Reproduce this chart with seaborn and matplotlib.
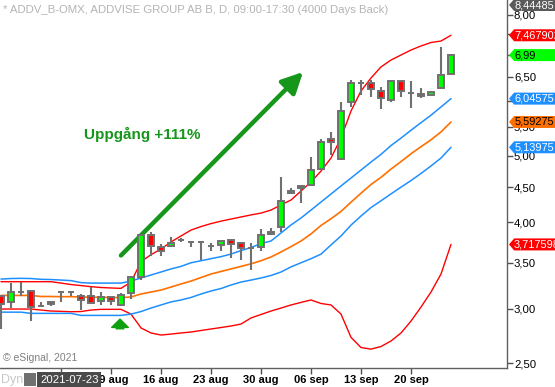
import numpy as np
import pandas as pd
import matplotlib
matplotlib.use("Agg")
import matplotlib.pyplot as plt
import seaborn as sns
from matplotlib.patches import Polygon, Rectangle
from matplotlib.ticker import FixedLocator, FuncFormatter, NullLocator

# trading days shown in the chart
days = pd.bdate_range("2021-07-23", "2021-09-24")

opens = [3.13, 3.07, 3.17, 3.18, 3.03, 3.07, 3.175, 3.175, 3.13, 3.13,
         3.08, 3.12, 3.035, 3.16, 3.34, 3.84, 3.68, 3.70, 3.77, 3.75,
         3.75, 3.70, 3.71, 3.77, 3.74, 3.67, 3.68, 3.845, 3.94, 4.41,
         4.48, 4.53, 4.775, 5.28, 4.94, 5.98, 6.375, 6.375, 6.205, 6.015,
         6.41, 6.155, 6.135, 6.12, 6.255, 6.565]
highs = [3.14, 3.27, 3.28, 3.18, 3.07, 3.08, 3.18, 3.18, 3.15, 3.23,
         3.17, 3.12, 3.165, 3.35, 3.84, 3.88, 3.72, 3.81, 3.80, 3.755,
         3.755, 3.735, 3.755, 3.79, 3.745, 3.74, 3.92, 3.93, 4.66, 4.49,
         4.52, 4.98, 5.28, 5.41, 5.98, 6.43, 6.43, 6.43, 6.29, 6.41,
         6.42, 6.41, 6.255, 6.20, 7.19, 7.02]
lows = [2.80, 3.01, 3.13, 2.88, 3.02, 3.03, 3.07, 3.13, 2.99, 3.06,
        3.035, 3.035, 3.03, 3.10, 3.30, 3.58, 3.58, 3.69, 3.75, 3.69,
        3.535, 3.64, 3.64, 3.55, 3.53, 3.41, 3.64, 3.84, 3.88, 4.405,
        4.27, 4.525, 4.765, 5.01, 4.93, 5.885, 6.12, 6.085, 5.835, 5.985,
        6.085, 5.865, 6.05, 6.10, 6.235, 6.55]
closes = [3.05, 3.17, 3.17, 3.02, 3.03, 3.05, 3.175, 3.175, 3.09, 3.06,
          3.12, 3.08, 3.14, 3.33, 3.83, 3.70, 3.64, 3.74, 3.77, 3.75,
          3.75, 3.70, 3.755, 3.72, 3.67, 3.67, 3.83, 3.87, 4.30, 4.45,
          4.51, 4.76, 5.23, 5.23, 5.80, 6.36, 6.375, 6.235, 6.05, 6.41,
          6.20, 6.155, 6.10, 6.175, 6.54, 6.99]

sma20 = [3.136, 3.136, 3.136, 3.136, 3.125, 3.125, 3.123, 3.123, 3.120, 3.117,
         3.117, 3.115, 3.113, 3.120, 3.151, 3.172, 3.193, 3.225, 3.258, 3.290,
         3.329, 3.368, 3.397, 3.426, 3.455, 3.485, 3.521, 3.565, 3.625, 3.690,
         3.760, 3.85, 3.96, 4.05, 4.15, 4.28, 4.41, 4.54, 4.65, 4.78,
         4.90, 5.03, 5.15, 5.27, 5.41, 5.59275]
bb_upper = [3.283, 3.283, 3.283, 3.283, 3.283, 3.283, 3.268, 3.252, 3.241, 3.229,
            3.220, 3.215, 3.211, 3.279, 3.509, 3.593, 3.661, 3.748, 3.824, 3.900,
            3.946, 3.985, 4.018, 4.046, 4.074, 4.102, 4.127, 4.169, 4.242, 4.311,
            4.442, 4.578, 4.748, 4.959, 5.301, 5.801, 6.201, 6.476, 6.720, 6.876,
            6.992, 7.109, 7.206, 7.290, 7.326, 7.467902]
bb_lower = [2.997, 2.997, 2.997, 2.997, 2.987, 2.977, 2.974, 2.970, 2.972, 2.987,
            2.994, 2.994, 2.994, 2.947, 2.814, 2.767, 2.748, 2.757, 2.767, 2.776,
            2.790, 2.804, 2.818, 2.832, 2.851, 2.909, 2.943, 2.977, 3.007, 3.038,
            3.064, 3.089, 3.053, 3.038, 2.947, 2.727, 2.636, 2.622, 2.645, 2.694,
            2.767, 2.879, 3.017, 3.172, 3.368, 3.717598]
kc_upper = [3.312, 3.318, 3.320, 3.318, 3.309, 3.307, 3.301, 3.295, 3.273, 3.268,
            3.268, 3.268, 3.268, 3.290, 3.324, 3.357, 3.391, 3.426, 3.455, 3.497,
            3.521, 3.545, 3.569, 3.600, 3.642, 3.679, 3.729, 3.760, 3.862, 3.967,
            4.060, 4.169, 4.282, 4.398, 4.518, 4.639, 4.764, 4.893, 5.020, 5.170,
            5.300, 5.440, 5.580, 5.720, 5.880, 6.04575]
kc_lower = [2.966, 2.966, 2.966, 2.954, 2.954, 2.954, 2.954, 2.954, 2.934, 2.934,
            2.934, 2.934, 2.934, 2.947, 2.972, 3.007, 3.038, 3.069, 3.089, 3.115,
            3.151, 3.183, 3.209, 3.247, 3.279, 3.301, 3.324, 3.352, 3.391, 3.449,
            3.497, 3.545, 3.599, 3.711, 3.824, 3.965, 4.087, 4.204, 4.300, 4.400,
            4.500, 4.600, 4.710, 4.830, 4.959, 5.13975]

price_ticks = [2.5, 3.0, 3.5, 4.0, 4.5, 5.0, 5.5, 6.0, 6.5, 7.0, 7.5, 8.0]
hidden_ticks = [6.0, 7.0, 7.5]   # covered by the price tags

# right-hand price tags: text, value, background, text colour
tags = [("7,467902", 7.467902, "#ff0000", "white"),
        ("6,99", 6.99, "#00ff00", "black"),
        ("6,04575", 6.04575, "#1e8fff", "white"),
        ("5,59275", 5.59275, "#ff7000", "black"),
        ("5,13975", 5.13975, "#1e8fff", "white"),
        ("3,717598", 3.717598, "#ff0000", "white")]

sns.set_theme(style="white")
plt.rcParams["font.family"] = ["Liberation Sans", "DejaVu Sans"]

fig = plt.figure(figsize=(5.55, 3.87), dpi=100)
ax = fig.add_axes([0, 19 / 387, 507 / 555, 368 / 387])

x = np.arange(len(days))
bands = pd.DataFrame({"x": x, "bb_upper": bb_upper, "bb_lower": bb_lower,
                      "sma20": sma20, "kc_upper": kc_upper, "kc_lower": kc_lower})
styles = {"bb_upper": ("#ff0000", 1.0), "bb_lower": ("#ff0000", 1.0),
          "kc_upper": ("#1e8fff", 1.1), "kc_lower": ("#1e8fff", 1.1),
          "sma20": ("#ff7000", 1.2)}
for col, (c, lw) in styles.items():
    sns.lineplot(data=bands, x="x", y=col, color=c, linewidth=lw, ax=ax, zorder=2)

# candles
o = np.array(opens)
c = np.array(closes)
body_col = np.where(c > o, "#00ff00", np.where(c < o, "#ff0000", "#707070"))
ax.vlines(x, lows, highs, color="#707070", linewidth=1.5, zorder=3)
ax.bar(x, np.abs(c - o), bottom=np.minimum(o, c), width=0.6, color=body_col,
       edgecolor="#707070", linewidth=1.4, zorder=4)

ax.set_yscale("log")
ax.set_ylim(2.462, 8.40)
ax.set_xlim(-0.1, 50.6)
ax.set_xlabel("")
ax.set_ylabel("")

ax.yaxis.tick_right()
ax.yaxis.set_major_locator(FixedLocator(price_ticks))
ax.yaxis.set_minor_locator(NullLocator())
ax.yaxis.set_major_formatter(FuncFormatter(
    lambda v, p: "" if round(v, 2) in hidden_ticks else f"{v:.2f}".replace(".", ",")))
ax.tick_params(axis="y", right=True, left=False, length=4, width=1, color="#505050",
               labelsize=8.2, pad=1, labelcolor="black")

mondays = [i for i, d in enumerate(days) if d.weekday() == 0 and i >= 6]
labels = [days[i].strftime("%d %b").lower() for i in mondays]
labels[0] = ""   # under the date box
ax.set_xticks(mondays)
ax.set_xticklabels(labels, fontweight="bold", fontsize=8)
ax.tick_params(axis="x", bottom=True, length=4, width=1, color="#505050", pad=1,
               labelcolor="black")

for side in ["left", "top"]:
    ax.spines[side].set_visible(False)
for side in ["right", "bottom"]:
    ax.spines[side].set_color("#606060")
    ax.spines[side].set_linewidth(1.0)
ax.grid(False)

# price tags
ytr = ax.get_yaxis_transform()
k = np.exp(6 / 300)
for txt, v, bg, fg in tags:
    poly = Polygon([(1.004, v), (1.014, v * k), (1.2, v * k), (1.2, v / k), (1.014, v / k)],
                   closed=True, transform=ytr, facecolor=bg, edgecolor="none",
                   clip_on=False, zorder=10)
    ax.add_patch(poly)
    ax.text(1.014, v, txt, transform=ytr, va="center", ha="left", fontsize=7.9,
            color=fg, zorder=11, clip_on=False)
hy = 6 / 368
ty = 1 - 5 / 368
ax.add_patch(Polygon([(1.004, ty), (1.014, ty + hy), (1.2, ty + hy), (1.2, ty - hy),
                      (1.014, ty - hy)], closed=True, transform=ax.transAxes,
                     facecolor="#5a5a5a", edgecolor="none", clip_on=False, zorder=10))
ax.text(1.014, ty, "8,44485", transform=ax.transAxes, va="center", ha="left",
        fontsize=7.9, color="white", zorder=11, clip_on=False)

# annotations
green = "#16961a"
ax.annotate("", xy=(30.4, 6.65), xytext=(11.8, 3.56),
            arrowprops=dict(arrowstyle="-|>,head_length=0.9,head_width=0.45",
                            color=green, lw=3.2, mutation_scale=14))
ax.text(14.1, 5.36, "Uppgång +111%", color=green, fontsize=11, fontweight="bold",
        ha="center", va="center")
ax.annotate("", xy=(11.9, 2.925), xytext=(11.9, 2.78),
            arrowprops=dict(arrowstyle="simple,head_length=0.5,head_width=1.0,tail_width=0.45",
                            color="#10a010", mutation_scale=12))

fig.text(3 / 555, 1 - 10 / 387, "* ADDV_B-OMX, ADDVISE GROUP AB B, D, 09:00-17:30 (4000 Days Back)",
         fontsize=8.2, color="#b4b4b4", va="center", ha="left")
fig.text(3 / 555, 1 - 358 / 387, "\u00a9 eSignal, 2021", fontsize=7.5, color="#808080",
         va="center", ha="left")
fig.text(1 / 555, 1 - 380 / 387, "Dyn", fontsize=9, color="#c8c8c8", va="center", ha="left")
fig.patches.append(Rectangle((24 / 555, 1 - 386 / 387), 12 / 555, 13 / 387,
                             transform=fig.transFigure, facecolor="#707070",
                             edgecolor="none", zorder=5))
fig.text(40 / 555, 1 - 380 / 387, "2021-07-23", fontsize=8.2, color="white",
         va="center", ha="left", zorder=6,
         bbox=dict(boxstyle="square,pad=0.25", facecolor="#4a4a4a", edgecolor="none"))

fig.savefig("out.png", dpi=100)
